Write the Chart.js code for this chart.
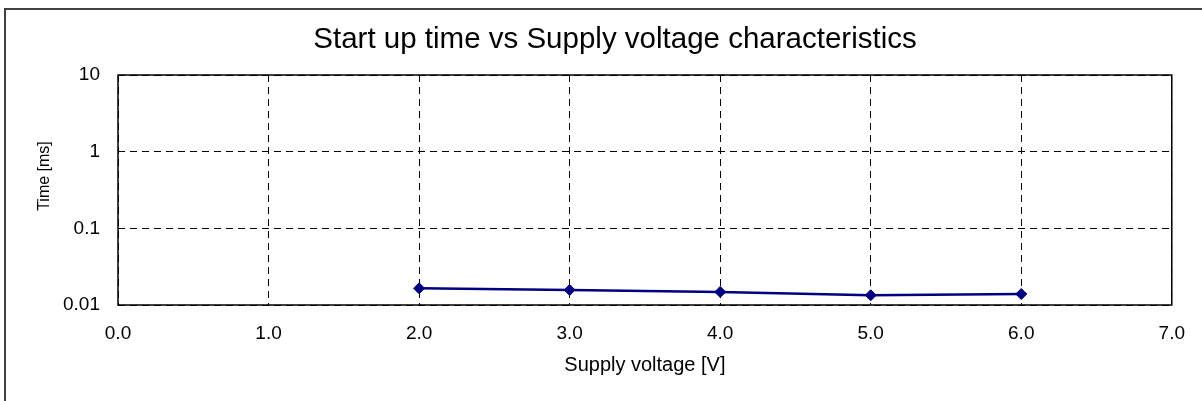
<!DOCTYPE html>
<html>
<head>
<meta charset="utf-8">
<script src="https://cdn.jsdelivr.net/npm/chart.js@4.4.0/dist/chart.umd.min.js"></script>
<style>
    html, body { margin: 0; padding: 0; background: #fff; }
    #grafico { display: block; }
</style>
</head>
<body>
<canvas id="grafico" width="1202" height="401"></canvas>
<script>
// Datos
var voltajes = [2.0, 3.0, 4.0, 5.0, 6.0];          // Supply voltage [V]
var tiempos = [0.0165, 0.0157, 0.0148, 0.0134, 0.0139]; // Time [ms]
var ticksX = [0, 1, 2, 3, 4, 5, 6, 7];
var ticksY = [0.01, 0.1, 1, 10];

document.addEventListener("DOMContentLoaded", function () {
    Chart.defaults.font.family = "'Liberation Sans', Arial, sans-serif";
    Chart.defaults.color = '#000';

    var puntos = voltajes.map(function (v, i) { return { x: v, y: tiempos[i] }; });

    // Marco exterior, borde del area y titulo del eje Y
    var marcos = {
        id: 'marcos',
        beforeDraw: function (chart) {
            var ctx = chart.ctx;
            ctx.save();
            ctx.fillStyle = '#fff';
            ctx.fillRect(0, 0, chart.width, chart.height);
            ctx.strokeStyle = '#404040';
            ctx.lineWidth = 2;
            ctx.beginPath();
            ctx.moveTo(5, chart.height);
            ctx.lineTo(5, 9);
            ctx.lineTo(chart.width, 9);
            ctx.stroke();
            ctx.restore();
        },
        beforeDatasetsDraw: function (chart) {
            var a = chart.chartArea, ctx = chart.ctx;
            ctx.save();
            ctx.strokeStyle = '#000';
            ctx.lineWidth = 1.5;
            ctx.strokeRect(a.left, a.top, a.right - a.left, a.bottom - a.top);
            ctx.restore();
        },
        afterDraw: function (chart) {
            var ctx = chart.ctx;
            ctx.save();
            ctx.translate(45, 176);
            ctx.rotate(-Math.PI / 2);
            ctx.font = "16px 'Liberation Sans', Arial, sans-serif";
            ctx.fillStyle = '#000';
            ctx.textAlign = 'center';
            ctx.textBaseline = 'middle';
            ctx.fillText('Time [ms]', 0, 0);
            ctx.restore();
        }
    };

    var config = {
        type: 'line',
        data: {
            datasets: [{
                data: puntos,
                borderColor: '#000080',
                backgroundColor: '#000080',
                borderWidth: 2.5,
                pointStyle: 'rectRot',
                pointRadius: 5.5,
                pointBorderWidth: 1,
                fill: false,
                tension: 0
            }]
        },
        options: {
            responsive: false,
            animation: false,
            devicePixelRatio: 1,
            layout: { padding: { left: 58, right: 30, top: 0, bottom: 0 } },
            plugins: {
                legend: { display: false },
                tooltip: { enabled: false },
                title: {
                    display: true,
                    text: 'Start up time vs Supply voltage characteristics',
                    color: '#000',
                    font: { size: 29.5, weight: 'normal' },
                    padding: { top: 21.8, bottom: 17.8 }
                }
            },
            scales: {
                x: {
                    type: 'linear',
                    min: 0,
                    max: 7,
                    afterBuildTicks: function (eje) {
                        eje.ticks = ticksX.map(function (v) { return { value: v }; });
                    },
                    afterFit: function (eje) { eje.height = 96; },
                    ticks: {
                        padding: 17,
                        font: { size: 19 },
                        callback: function (v) { return Number(v).toFixed(1); }
                    },
                    grid: { color: '#000', lineWidth: 1, drawTicks: false },
                    border: { display: false, dash: [7, 5] },
                    title: {
                        display: true,
                        text: 'Supply voltage [V]',
                        font: { size: 20 },
                        padding: { top: 0, bottom: 24 }
                    }
                },
                y: {
                    type: 'logarithmic',
                    min: 0.01,
                    max: 10,
                    afterBuildTicks: function (eje) {
                        eje.ticks = ticksY.map(function (v) { return { value: v }; });
                    },
                    afterFit: function (eje) { eje.width = 60; },
                    ticks: {
                        padding: 18,
                        font: { size: 19 },
                        callback: function (v) { return String(v); }
                    },
                    grid: { color: '#000', lineWidth: 1, drawTicks: false },
                    border: { display: false, dash: [7, 5] }
                }
            }
        },
        plugins: [marcos]
    };

    var grafico = new Chart(document.getElementById('grafico'), config);
});
</script>
</body>
</html>
